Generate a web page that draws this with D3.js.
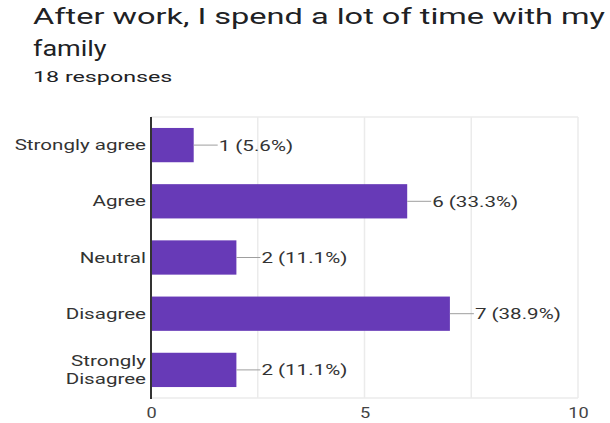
<!DOCTYPE html>
<html>
<head>
<meta charset="utf-8">
<script src="https://cdn.jsdelivr.net/npm/d3@7"></script>
<style>
  html, body { margin: 0; padding: 0; background: #fff; }
  svg { display: block; font-family: Roboto, "Noto Sans", sans-serif; }
</style>
</head>
<body>
<svg id="chart" width="610" height="423"></svg>
<script>
const titleLines = ["After work, I spend a lot of time with my", "family"];
const subtitle = "18 responses";
const categories = ["Strongly agree", "Agree", "Neutral", "Disagree", "Strongly Disagree"];
const categoryLines = [["Strongly agree"], ["Agree"], ["Neutral"], ["Disagree"], ["Strongly", "Disagree"]];
const counts = [1, 6, 2, 7, 2];
const percents = ["5.6%", "33.3%", "11.1%", "38.9%", "11.1%"];
const tickValues = [0, 5, 10];
const gridValues = [0, 2.5, 5, 7.5, 10];

const svg = d3.select("#chart");

function stretch(sel, sx) {
  sel.each(function () {
    const t = d3.select(this);
    const x = +t.attr("x"), y = +t.attr("y");
    t.attr("x", 0).attr("y", 0)
     .attr("transform", `translate(${x},${y}) scale(${sx},1)`);
  });
}

// Title
svg.append("text").attr("x", 33).attr("y", 24)
  .attr("font-size", 22.5).attr("fill", "#202124")
  .attr("textLength", 572).attr("lengthAdjust", "spacingAndGlyphs")
  .text(titleLines[0]);
svg.append("text").attr("x", 33).attr("y", 56)
  .attr("font-size", 22.5).attr("fill", "#202124")
  .text(titleLines[1]).call(stretch, 1.2);
svg.append("text").attr("x", 33).attr("y", 82)
  .attr("font-size", 15.5).attr("fill", "#202124").text(subtitle).call(stretch, 1.5);

// Scales
const x = d3.scaleLinear().domain([0, 10]).range([151, 578]);
const y = d3.scaleBand().domain(categories).range([117, 398]).paddingInner(0.39).paddingOuter(0.195);

// Grid
svg.append("g").selectAll("line").data(gridValues.slice(1)).join("line")
  .attr("x1", d => x(d)).attr("x2", d => x(d))
  .attr("y1", 117).attr("y2", 398)
  .attr("stroke", "#ebebeb").attr("stroke-width", 1.5);
svg.append("line").attr("x1", x(0)).attr("x2", x(10)).attr("y1", 117).attr("y2", 117)
  .attr("stroke", "#ebebeb").attr("stroke-width", 1.5);
svg.append("line").attr("x1", x(0)).attr("x2", x(10)).attr("y1", 398).attr("y2", 398)
  .attr("stroke", "#ebebeb").attr("stroke-width", 1.5);

// Bars
svg.append("g").selectAll("rect").data(categories).join("rect")
  .attr("x", x(0)).attr("y", d => y(d))
  .attr("width", (d, i) => x(counts[i]) - x(0))
  .attr("height", y.bandwidth())
  .attr("fill", "#673ab7");

// Leader lines + labels
const lab = svg.append("g");
lab.selectAll("line").data(categories).join("line")
  .attr("x1", (d, i) => x(counts[i])).attr("x2", (d, i) => x(counts[i]) + 24)
  .attr("y1", d => y(d) + y.bandwidth() / 2).attr("y2", d => y(d) + y.bandwidth() / 2)
  .attr("stroke", "#9e9e9e").attr("stroke-width", 1);
lab.selectAll("text").data(categories).join("text")
  .attr("x", (d, i) => x(counts[i]) + 25)
  .attr("y", d => y(d) + y.bandwidth() / 2 + 5.5)
  .attr("font-size", 15).attr("fill", "#333")
  .text((d, i) => `${counts[i]} (${percents[i]})`)
  .call(stretch, 1.37);

// Category axis
const yAxis = d3.axisLeft(y).tickSize(0).tickFormat("");
const ya = svg.append("g").attr("transform", `translate(${x(0)},0)`).call(yAxis);
ya.select(".domain").remove();
svg.append("line").attr("x1", x(0)).attr("x2", x(0)).attr("y1", 117).attr("y2", 399)
  .attr("stroke", "#333").attr("stroke-width", 2);
const catG = svg.append("g");
categories.forEach((c, i) => {
  const lines = categoryLines[i];
  const cy = y(c) + y.bandwidth() / 2;
  lines.forEach((ln, j) => {
    catG.append("text")
      .attr("x", 146)
      .attr("y", cy + 5 + (j - (lines.length - 1) / 2) * 18)
      .attr("text-anchor", "end")
      .attr("font-size", 15).attr("fill", "#333")
      .text(ln);
  });
});
catG.selectAll("text").call(stretch, 1.37);

// X axis
const xAxis = d3.axisBottom(x).tickValues(tickValues).tickSize(0).tickPadding(0).tickFormat(d3.format("d"));
const xa = svg.append("g").attr("transform", "translate(0,404)").call(xAxis);
xa.select(".domain").remove();
xa.selectAll(".tick text").attr("font-size", 14).attr("fill", "#444").attr("font-family", "Roboto")
  .attr("dy", 0).attr("y", 14).attr("x", 0)
  .attr("transform", "scale(1.3,1)");
</script>
</body>
</html>
